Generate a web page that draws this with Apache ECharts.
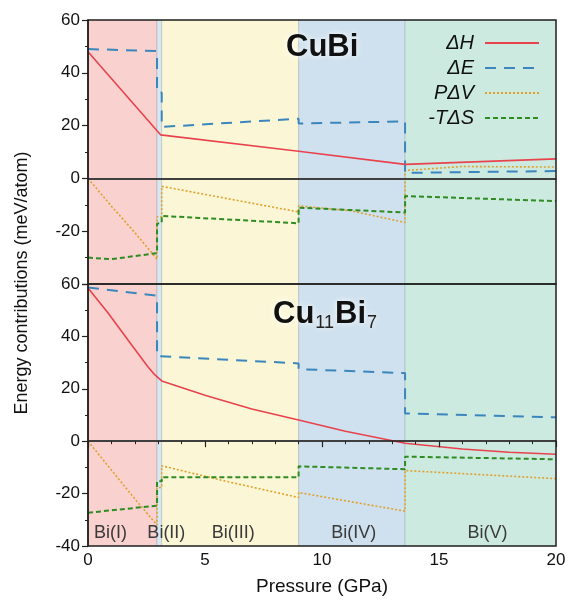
<!DOCTYPE html>
<html>
<head>
<meta charset="utf-8">
<script src="https://cdn.jsdelivr.net/npm/echarts@6/dist/echarts.min.js"></script>
<style>
  html, body { margin: 0; padding: 0; background: #fff; }
  #chartBox { width: 570px; height: 602px; }
</style>
</head>
<body>
<div id="chartBox"></div>
<script>
// phase regions of Bi (GPa)
const phaseEdges = [0, 2.95, 3.15, 9.0, 13.55, 20];
const phaseNames = ["Bi(I)", "Bi(II)", "Bi(III)", "Bi(IV)", "Bi(V)"];

// CuBi, [pressure, meV/atom]
const cuBiH = [[0, 48], [3.1, 16.5], [9.0, 10.3], [13.55, 5.3], [20, 7.4]];
const cuBiE = [[0, 49], [2.95, 48.2], [2.95, 32.5], [3.15, 32.5], [3.15, 19.5], [9.0, 22.6],
  [9.0, 20.8], [13.55, 21.6], [13.55, 2.1], [20, 2.8]];
const cuBiPV = [[0, 0], [1, -10.5], [2, -20.5], [2.95, -30.6], [2.95, -14.5], [3.15, -14.5],
  [3.15, -3], [9.0, -12.7], [9.0, -10.4], [11.2, -12.2], [13.55, -16.7], [13.55, 3.0],
  [16, 4.5], [20, 4.3]];
const cuBiTS = [[0, -30], [1, -30.6], [2.95, -28.3], [2.95, -17.2], [3.15, -16.8], [3.15, -14.2],
  [9.0, -17], [9.0, -11.1], [13.55, -12.9], [13.55, -6.7], [20, -8.6]];

// Cu11Bi7
const cu11H = [[0, 58.5], [0.85, 49], [1.7, 38.7], [2.55, 28.5], [2.85, 25.4], [3.15, 23],
  [5, 17.5], [7, 12.3], [9.0, 8.1], [11, 3.8], [13.55, -0.8], [16, -3], [18, -4.2], [20, -5]];
const cu11E = [[0, 58.7], [2.95, 55.5], [2.95, 32.5], [9.0, 29.7], [9.0, 27.5], [13.55, 26],
  [13.55, 10.6], [20, 9.1]];
const cu11PV = [[0, 0], [1, -11], [2, -22], [2.95, -32], [2.95, -17.7], [3.15, -17.7],
  [3.15, -9.4], [6, -15.5], [9.0, -21.5], [9.0, -19.6], [13.55, -26.7], [13.55, -11.2],
  [20, -14.3]];
const cu11TS = [[0, -27.3], [2.95, -24.6], [2.95, -15.3], [3.15, -15.3], [3.15, -13.8],
  [9.0, -13.8], [9.0, -9.6], [13.55, -10.7], [13.55, -5.9], [20, -6.9]];

const phaseColors = ["#f9d1ce", "#d6e8f4", "#fbf7d6", "#cfe1ee", "#cdeae1"];
const labelOffsets = [[-12, 0], [7, 0], [3, 0], [2, 0], [7, 0]];
const font = "Liberation Sans, Arial, sans-serif";

function phaseAreas(withLabels) {
  return phaseNames.map((name, i) => [
    {
      name: withLabels ? name : "",
      xAxis: phaseEdges[i],
      itemStyle: { color: phaseColors[i], borderColor: "rgba(80,90,100,0.18)", borderWidth: 1 },
      label: { offset: labelOffsets[i] }
    },
    { xAxis: phaseEdges[i + 1] }
  ]);
}

function makeSeries(idx, h, e, pv, ts) {
  return [
    {
      name: "ΔH", type: "line", data: h, xAxisIndex: idx, yAxisIndex: idx,
      symbol: "none", lineStyle: { color: "#e8434d", width: 1.6 }, itemStyle: { color: "#e8434d" },
      z: 5,
      markArea: {
        silent: true, z: 1,
        label: { show: true, position: "insideBottom", distance: 4, color: "#3a3a3a", fontSize: 18, fontFamily: font },
        data: phaseAreas(idx === 1)
      },
      markLine: {
        silent: true, symbol: "none", z: 2,
        label: { show: false },
        lineStyle: { color: "#999", width: 2, type: "solid" },
        data: [{ yAxis: 0 }]
      }
    },
    {
      name: "ΔE", type: "line", data: e, xAxisIndex: idx, yAxisIndex: idx,
      symbol: "none", lineStyle: { color: "#3b86bd", width: 2, type: [11, 8] }, itemStyle: { color: "#3b86bd" }, z: 4
    },
    {
      name: "PΔV", type: "line", data: pv, xAxisIndex: idx, yAxisIndex: idx,
      symbol: "none", lineStyle: { color: "#e0a12c", width: 1.6, type: [2, 2] }, itemStyle: { color: "#e0a12c" }, z: 3
    },
    {
      name: "-TΔS", type: "line", data: ts, xAxisIndex: idx, yAxisIndex: idx,
      symbol: "none", lineStyle: { color: "#2f8c22", width: 2, type: [5, 3] }, itemStyle: { color: "#2f8c22" }, z: 3
    }
  ];
}

function yAxisFor(idx) {
  return {
    gridIndex: idx, type: "value", min: -40, max: 60, interval: 20, z: 10,
    axisLine: { show: true, lineStyle: { color: "#222", width: 1.5 } },
    axisTick: { show: true, inside: false, length: 6, lineStyle: { color: "#222", width: 1.2 } },
    minorTick: { show: true, splitNumber: 2, length: 3, lineStyle: { color: "#222" } },
    splitLine: { show: false },
    axisLabel: { showMinLabel: idx === 1, fontSize: 17, color: "#111", fontFamily: font, margin: 8 }
  };
}

function xAxisFor(idx) {
  return {
    gridIndex: idx, type: "value", min: 0, max: 20, interval: 5, z: 10,
    axisLine: { show: true, lineStyle: { color: "#222", width: 1.5 } },
    axisTick: { show: idx === 1, length: 6, lineStyle: { color: "#222", width: 1.2 } },
    minorTick: { show: idx === 1, splitNumber: 5, length: 3, lineStyle: { color: "#222" } },
    splitLine: { show: false },
    axisLabel: { show: idx === 1, fontSize: 17, color: "#111", fontFamily: font, margin: 6 },
    name: idx === 1 ? "Pressure (GPa)" : "",
    nameLocation: "middle", nameGap: 31,
    nameTextStyle: { fontSize: 19, color: "#111", fontFamily: font }
  };
}

const titleShadow = { textShadowColor: "#fff", textShadowBlur: 6 };

const option = {
  animation: false,
  backgroundColor: "#fff",
  textStyle: { fontFamily: font },
  grid: [
    { left: 88, right: 14, top: 20, height: 264, show: true, z: 10, borderColor: "#222", borderWidth: 1.5, backgroundColor: "transparent" },
    { left: 88, right: 14, top: 284, height: 262, show: true, z: 10, borderColor: "#222", borderWidth: 1.5, backgroundColor: "transparent" }
  ],
  xAxis: [xAxisFor(0), xAxisFor(1)],
  yAxis: [yAxisFor(0), yAxisFor(1)],
  title: [
    {
      text: "CuBi", left: 281, top: 27, z: 20,
      textStyle: Object.assign({ fontSize: 31, fontWeight: "bold", color: "#111", fontFamily: font }, titleShadow)
    },
    {
      text: "{b|Cu}{s|11}{b|Bi}{s|7}", left: 268, top: 291, z: 20,
      textStyle: {
        rich: {
          b: Object.assign({ fontSize: 31, fontWeight: "bold", color: "#111", fontFamily: font, lineHeight: 36 }, titleShadow),
          s: Object.assign({ fontSize: 18, fontWeight: "normal", color: "#222", fontFamily: font, verticalAlign: "bottom", lineHeight: 36, padding: [0, 1, 0, 1] }, titleShadow)
        }
      }
    }
  ],
  legend: {
    orient: "vertical", right: 25, top: 28, align: "right",
    itemWidth: 54, itemHeight: 10, itemGap: 5,
    data: ["ΔH", "ΔE", "PΔV", "-TΔS"],
    itemStyle: { opacity: 0 },
    textStyle: { fontSize: 20, fontStyle: "italic", color: "#111", fontFamily: font, padding: [0, 6, 0, 0] }
  },
  graphic: [
    {
      type: "text", x: 22, y: 283, rotation: Math.PI / 2,
      style: { text: "Energy contributions (meV/atom)", fontSize: 18, fill: "#111", font: "18px " + font, textAlign: "center", textVerticalAlign: "middle" }
    }
  ],
  series: [].concat(
    makeSeries(0, cuBiH, cuBiE, cuBiPV, cuBiTS),
    makeSeries(1, cu11H, cu11E, cu11PV, cu11TS)
  )
};

const chart = echarts.init(document.getElementById("chartBox"));
chart.setOption(option);
</script>
</body>
</html>
